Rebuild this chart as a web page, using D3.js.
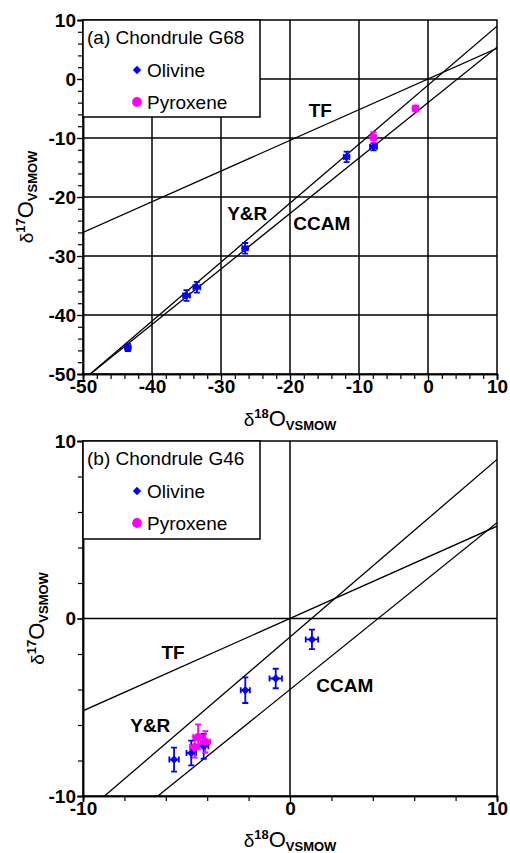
<!DOCTYPE html>
<html>
<head>
<meta charset="utf-8">
<script src="https://cdn.jsdelivr.net/npm/d3@7"></script>
<style>
  body { margin: 0; background: #fff; }
  svg text { font-family: "Liberation Sans", Arial, sans-serif; }
</style>
</head>
<body>
<svg id="chart" width="510" height="853"></svg>
<script>
// panel (a) Chondrule G68 : [d18O, d17O, err18, err17]
let olivineA = [
  [-43.5, -45.5, 0.4, 0.6],
  [-35.0, -36.7, 0.5, 0.9],
  [-33.5, -35.3, 0.5, 0.9],
  [-26.5, -28.7, 0.4, 0.9],
  [-11.8, -13.2, 0.4, 0.9],
  [-7.9, -11.5, 0.5, 0.6],
];
let pyroxeneA = [
  [-7.9, -9.9, 0.4, 0.9],
  [-1.8, -5.0, 0.4, 0.5],
];

// panel (b) Chondrule G46
let olivineB = [
  [-5.6, -7.95, 0.23, 0.68],
  [-4.77, -7.58, 0.23, 0.7],
  [-4.17, -7.2, 0.23, 0.7],
  [-2.16, -4.04, 0.22, 0.72],
  [-0.69, -3.38, 0.3, 0.55],
  [1.06, -1.18, 0.3, 0.55],
];
let pyroxeneB = [
  [-4.44, -6.67, 0.23, 0.7],
  [-4.09, -6.95, 0.23, 0.6],
  [-4.6, -7.24, 0.23, 0.6],
];

// reference lines d17O = slope * d18O + intercept
let refNames = ["TF", "Y&R", "CCAM"];
let refSlopes = [0.52, 1.0, 0.94];
let refIntercepts = [0, -1.04, -4.0];

let majorTicksA = [-50, -40, -30, -20, -10, 0, 10];
let majorTicksB = [-10, 0, 10];
let gridA = [-40, -30, -20, -10, 0];
let gridB = [0];

let svg = d3.select("#chart");

let panels = [
  {
    id: "a", title: "(a) Chondrule G68",
    xDomain: [-50, 10], yDomain: [-50, 10],
    top: 20, bottom: 374, left: 83, right: 497,
    ticks: majorTicksA, grid: gridA,
    olivine: olivineA, pyroxene: pyroxeneA,
    labels: [[-15.6, -5.3], [-26.2, -22.7], [-15.4, -24.4]],
    yLabelX: 33, xLabelY: 426,
  },
  {
    id: "b", title: "(b) Chondrule G46",
    xDomain: [-10, 10], yDomain: [-10, 10],
    top: 441, bottom: 796, left: 83, right: 497,
    ticks: majorTicksB, grid: gridB,
    olivine: olivineB, pyroxene: pyroxeneB,
    labels: [[-5.65, -1.9], [-6.75, -6.0], [2.65, -3.75]],
    yLabelX: 44, xLabelY: 847,
  },
];

panels.forEach(drawPanel);

function drawPanel(p) {
  let x = d3.scaleLinear().domain(p.xDomain).range([p.left, p.right]);
  let y = d3.scaleLinear().domain(p.yDomain).range([p.bottom, p.top]);
  let g = svg.append("g");

  g.append("clipPath").attr("id", "clip" + p.id)
    .append("rect")
    .attr("x", p.left).attr("y", p.top)
    .attr("width", p.right - p.left).attr("height", p.bottom - p.top);

  // grid
  g.selectAll(".gx").data(p.grid).enter().append("line")
    .attr("x1", (d) => x(d)).attr("x2", (d) => x(d))
    .attr("y1", p.top).attr("y2", p.bottom)
    .attr("stroke", "#000").attr("stroke-width", 1.5);
  g.selectAll(".gy").data(p.grid).enter().append("line")
    .attr("y1", (d) => y(d)).attr("y2", (d) => y(d))
    .attr("x1", p.left).attr("x2", p.right)
    .attr("stroke", "#000").attr("stroke-width", 1.5);

  // reference lines
  let lines = g.append("g").attr("clip-path", `url(#clip${p.id})`);
  refSlopes.forEach((s, i) => {
    let x0 = p.xDomain[0], x1 = p.xDomain[1];
    lines.append("line")
      .attr("x1", x(x0)).attr("y1", y(s * x0 + refIntercepts[i]))
      .attr("x2", x(x1)).attr("y2", y(s * x1 + refIntercepts[i]))
      .attr("stroke", "#000").attr("stroke-width", 1.3);
  });

  // line labels
  g.selectAll(".rl").data(refNames).enter().append("text")
    .attr("x", (d, i) => x(p.labels[i][0]))
    .attr("y", (d, i) => y(p.labels[i][1]))
    .attr("text-anchor", "middle").attr("dy", "0.35em")
    .attr("font-size", 19).attr("font-weight", "bold")
    .text((d) => d);

  // frame
  g.append("rect")
    .attr("x", p.left).attr("y", p.top)
    .attr("width", p.right - p.left).attr("height", p.bottom - p.top)
    .attr("fill", "none").attr("stroke", "#000").attr("stroke-width", 1.5);

  // axes
  let minor = d3.range(p.xDomain[0], p.xDomain[1] + 0.1, 2);
  let axX = g.append("g").attr("transform", `translate(0,${p.bottom})`)
    .call(d3.axisBottom(x).tickValues(minor).tickSize(5).tickFormat(""));
  let axX2 = g.append("g").attr("transform", `translate(0,${p.bottom})`)
    .call(d3.axisBottom(x).tickValues(p.ticks).tickSize(6).tickPadding(2).tickFormat(d3.format("d")));
  let axY = g.append("g").attr("transform", `translate(${p.left},0)`)
    .call(d3.axisLeft(y).tickValues(minor).tickSize(5).tickFormat(""));
  let axY2 = g.append("g").attr("transform", `translate(${p.left},0)`)
    .call(d3.axisLeft(y).tickValues(p.ticks).tickSize(6).tickPadding(1).tickFormat(d3.format("d")));
  [axX, axX2, axY, axY2].forEach((a) => {
    a.select(".domain").attr("stroke-width", 1.5);
    a.selectAll("line").attr("stroke-width", 1.2);
    a.selectAll("text").attr("font-size", 19).attr("font-weight", "bold")
      .attr("font-family", "Liberation Sans, Arial, sans-serif").attr("fill", "#000")
      .text(function () { return this.textContent.replace("−", "-"); });
  });
  axX2.selectAll("text").attr("dy", "0.6em");

  // error bars + markers
  let all = p.olivine.map((d) => ({ d: d, c: "#0000ff", s: "diamond" }))
    .concat(p.pyroxene.map((d) => ({ d: d, c: "#ff00ff", s: "circle" })));
  let eb = g.append("g");
  all.forEach((o) => {
    let [px, py, ex, ey] = o.d;
    let cap = 3;
    eb.append("path")
      .attr("d",
        `M${x(px)},${y(py - ey)}V${y(py + ey)}` +
        `M${x(px) - cap},${y(py - ey)}H${x(px) + cap}` +
        `M${x(px) - cap},${y(py + ey)}H${x(px) + cap}` +
        `M${x(px - ex)},${y(py)}H${x(px + ex)}` +
        `M${x(px - ex)},${y(py) - cap}V${y(py) + cap}` +
        `M${x(px + ex)},${y(py) - cap}V${y(py) + cap}`)
      .attr("stroke", o.c).attr("stroke-width", 1.8).attr("fill", "none");
  });
  let diamond = d3.symbol().type(d3.symbolDiamond2).size(45);
  let circle = d3.symbol().type(d3.symbolCircle).size(50);
  g.selectAll(".pt").data(all).enter().append("path")
    .attr("d", (o) => (o.s == "diamond" ? diamond() : circle()))
    .attr("transform", (o) => `translate(${x(o.d[0])},${y(o.d[1])})`)
    .attr("fill", (o) => o.c);

  // legend
  let lg = g.append("g").attr("transform", `translate(${p.left},${p.top})`);
  lg.append("rect").attr("width", 177).attr("height", p.id == "a" ? 97 : 98)
    .attr("fill", "#fff").attr("stroke", "#000").attr("stroke-width", 1.5);
  lg.append("text").attr("x", 4).attr("y", 24).attr("font-size", 19).text(p.title);
  lg.append("path").attr("d", diamond()).attr("transform", "translate(54,50)").attr("fill", "#0000ff");
  lg.append("text").attr("x", 64).attr("y", 57).attr("font-size", 19).text("Olivine");
  lg.append("path").attr("d", d3.symbol().type(d3.symbolCircle).size(75)())
    .attr("transform", "translate(54,82)").attr("fill", "#ff00ff");
  lg.append("text").attr("x", 64).attr("y", 89).attr("font-size", 19).text("Pyroxene");

  // axis titles
  let xt = g.append("text").attr("x", 290).attr("y", p.xLabelY).attr("text-anchor", "middle");
  axisTitle(xt, "18");
  let yt = g.append("text")
    .attr("transform", `translate(${p.yLabelX},${(p.top + p.bottom) / 2}) rotate(-90)`)
    .attr("text-anchor", "middle");
  axisTitle(yt, "17");
}

function axisTitle(t, iso) {
  t.append("tspan").attr("font-size", 19).text("δ");
  t.append("tspan").attr("font-size", 13).attr("font-weight", "bold").attr("dy", -8).text(iso);
  t.append("tspan").attr("font-size", 22).attr("dy", 8).text("O");
  t.append("tspan").attr("font-size", 13).attr("font-weight", "bold").attr("dy", 4).text("VSMOW");
}
</script>
</body>
</html>
